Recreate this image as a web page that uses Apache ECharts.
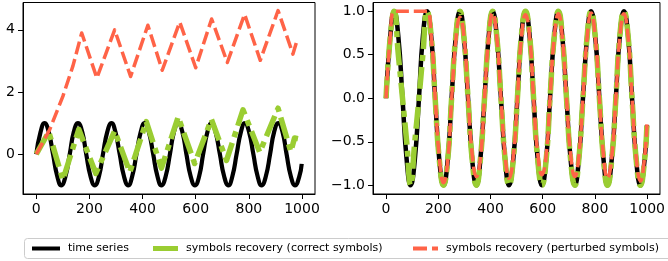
<!DOCTYPE html>
<html>
<head>
<meta charset="utf-8">
<script src="https://cdn.jsdelivr.net/npm/echarts@6.0.0/dist/echarts.min.js"></script>
<style>
html,body{margin:0;padding:0;background:#fff;}
#chart{width:668px;height:261px;}
</style>
</head>
<body>
<div id="chart"></div>
<script>
// ---------- data ----------
var xTicks = [0, 200, 400, 600, 800, 1000];
var leftYTicks = [0, 2, 4];
var rightYTicks = [-1, -0.5, 0, 0.5, 1];

var seriesNames = ['time series', 'symbols recovery (correct symbols)', 'symbols recovery (perturbed symbols)'];

// time series (same in both panels)
var tsX = [0,16,31,47,63,79,94,110,126,141,157,173,188,204,220,236,251,267,283,298,314,330,346,361,377,393,408,424,440,456,471,487,503,518,534,550,565,581,597,613,628,644,660,675,691,707,723,738,754,770,785,801,817,833,848,864,880,895,911,927,942,958,974,990,999];
var tsY = [0,0.71,1,0.71,0,-0.71,-1,-0.71, 0,0.71,1,0.71,0,-0.71,-1,-0.71, 0,0.71,1,0.71,0,-0.71,-1,-0.71, 0,0.71,1,0.71,0,-0.71,-1,-0.71,
           0,0.71,1,0.71,0,-0.71,-1,-0.71, 0,0.71,1,0.71,0,-0.71,-1,-0.71, 0,0.71,1,0.71,0,-0.71,-1,-0.71, 0,0.71,1,0.71,0,-0.71,-1,-0.71, -0.31];

// left panel: recovered with correct symbols
var leftGreenX = [0,47,100,160,224,295,352,414,471,534,596,659,716,778,841,910,958,972,985];
var leftGreenY = [0,0.72,-0.83,0.8,-0.62,0.75,-0.58,1.05,-0.45,1.2,-0.3,1.12,-0.2,1.43,0.06,1.48,0.08,0.52,0.5];

// left panel: recovered with perturbed symbols
var leftRedX = [0,50,100,138,171,228,295,355,420,474,540,600,660,719,784,843,910,966,980];
var leftRedY = [0,0.78,1.86,2.84,3.9,2.45,4.0,2.5,4.15,2.7,4.25,2.78,4.35,2.95,4.5,3.02,4.62,3.22,3.62];

// right panel: recovered with correct symbols
var rightGreenX = [0,16,31,47,63,79,94,110,126,141,157,173,188,204,220,236,251,267,283,298,314,330,346,361,377,393,408,424,440,456,471,487,503,518,534,550,565,581,597,613,628,644,660,675,691,707,723,738,754,770,785,801,817,833,848,864,880,895,911,927,942,958,974,990,999];
var rightGreenY = [0,0.7,1,0.5,0,-0.5,-1,-0.5,0,0.5,1,
                   0.71,0,-0.71,-1,-0.71,0,0.71,1,0.71,0,-0.71,-1,-0.71,0,0.71,1,0.71,0,-0.71,-1,-0.71,
                   0,0.71,1,0.71,0,-0.71,-1,-0.71,0,0.71,1,0.71,0,-0.71,-1,-0.71,0,0.71,1,0.71,0,-0.71,-1,-0.71,
                   0,0.71,1,0.71,0,-0.71,-1,-0.71,-0.3];

// right panel: recovered with perturbed symbols
var rightRedX = [0,16,31,47,63,79,94,110,126,141,157,173,188,204,220,236,251,267,283,298,314,330,346,361,377,393,408,424,440,456,471,487,503,518,534,550,565,581,597,613,628,644,660,675,691,707,723,738,754,770,785,801,817,833,848,864,880,895,911,927,942,958,974,990,999];
var rightRedY = [0,0.7,1,1,1,1,1,1,1,1,1,
                 0.71,0.02,-0.68,-0.97,-0.72,-0.02,0.66,0.93,0.72,0.02,-0.65,-0.9,-0.7,0,0.7,0.98,0.7,0,-0.66,-0.92,-0.68,
                 0,0.69,0.96,0.7,0,-0.64,-0.88,-0.66,0,0.7,0.97,0.7,0,-0.65,-0.9,-0.67,0,0.7,0.98,0.71,0,-0.67,-0.92,-0.68,
                 0,0.7,0.97,0.7,0,-0.68,-0.95,-0.68,-0.3];

// ---------- build ----------
function pairs(xs, ys) { var out = []; for (var i = 0; i < xs.length; i++) out.push([xs[i], ys[i]]); return out; }

var FONT = 'DejaVu Sans';
var BLACK = '#000000', GREEN = '#9acd32', RED = '#ff6347';

function xAxis(gridIndex) {
  return {
    type: 'value', gridIndex: gridIndex, min: -50, max: 1049,
    splitLine: {show: false},
    axisLine: {show: true, onZero: false, lineStyle: {color: '#000', width: 1}},
    axisTick: {show: true, inside: false, length: 5, lineStyle: {color: '#000', width: 1}, customValues: xTicks},
    axisLabel: {show: true, margin: 8, color: '#000', fontFamily: FONT, fontSize: 14, customValues: xTicks,
                formatter: function (v) { return String(v); }}
  };
}
function yAxis(gridIndex, min, max, ticks, fmt) {
  return {
    type: 'value', gridIndex: gridIndex, min: min, max: max,
    splitLine: {show: false},
    axisLine: {show: true, onZero: false, lineStyle: {color: '#000', width: 1}},
    axisTick: {show: true, inside: false, length: 5, lineStyle: {color: '#000', width: 1}, customValues: ticks},
    axisLabel: {show: true, margin: 8, color: '#000', fontFamily: FONT, fontSize: 14, customValues: ticks, formatter: fmt}
  };
}
function line(name, idx, xs, ys, color, width, dash, smooth) {
  return {
    name: name, type: 'line', xAxisIndex: idx, yAxisIndex: idx,
    data: pairs(xs, ys), symbol: 'none', showSymbol: false, smooth: smooth,
    itemStyle: {color: color},
    lineStyle: {color: color, width: width, type: dash, cap: 'butt', join: 'round'},
    emphasis: {disabled: true}, silent: true
  };
}
function legendItem(name, left, w, h, icon, color) {
  return {
    data: [{name: name, icon: icon, itemStyle: {color: color}}],
    left: left, top: 243, padding: 0, itemWidth: w, itemHeight: h,
    selectedMode: false, z: 5,
    itemStyle: {color: color, borderWidth: 0},
    textStyle: {fontFamily: FONT, fontSize: 11, color: '#000', padding: [0, 0, 0, 3]}
  };
}

var chart = echarts.init(document.getElementById('chart'), null, {renderer: 'canvas'});
chart.setOption({
  animation: false,
  backgroundColor: '#fff',
  grid: [
    {left: 23, top: 2.5, width: 292, height: 191.5, show: true, borderColor: '#000', borderWidth: 1, backgroundColor: 'transparent'},
    {left: 373, top: 2.5, width: 293, height: 191.5, show: true, borderColor: '#000', borderWidth: 1, backgroundColor: 'transparent'}
  ],
  xAxis: [xAxis(0), xAxis(1)],
  yAxis: [
    yAxis(0, -1.28, 4.88, leftYTicks, function (v) { return String(v); }),
    yAxis(1, -1.1, 1.1, rightYTicks, function (v) { return (v < 0 ? '\u2212' : '') + Math.abs(v).toFixed(1); })
  ],
  legend: [
    legendItem(seriesNames[0], 32, 28, 4, 'rect', BLACK),
    legendItem(seriesNames[1], 153, 25, 5, 'rect', GREEN),
    legendItem(seriesNames[2], 413, 25, 4, 'path://M0,0H14V4H0ZM19,0H25V4H19Z', RED)
  ],
  graphic: [{
    type: 'rect', z: 1, silent: true,
    shape: {x: 24.5, y: 238.5, width: 700, height: 20, r: 3},
    style: {fill: '#fff', stroke: '#cccccc', lineWidth: 1}
  }],
  series: [
    line(seriesNames[0], 0, tsX, tsY, BLACK, 4.2, 'solid', true),
    line(seriesNames[1], 0, leftGreenX, leftGreenY, GREEN, 5.5, [22, 6, 6, 6], false),
    line(seriesNames[2], 0, leftRedX, leftRedY, RED, 3.5, [13, 5], false),
    line(seriesNames[0], 1, tsX, tsY, BLACK, 4.5, 'solid', true),
    line(seriesNames[1], 1, rightGreenX, rightGreenY, GREEN, 5.5, [22, 6, 6, 6], true),
    line(seriesNames[2], 1, rightRedX, rightRedY, RED, 3.5, [13, 5], true)
  ]
});
</script>
</body>
</html>
